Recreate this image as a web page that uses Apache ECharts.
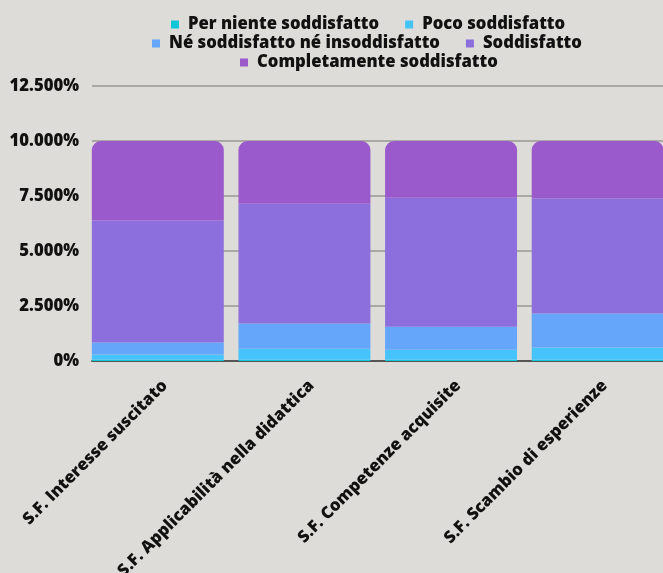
<!DOCTYPE html>
<html>
<head>
<meta charset="utf-8">
<script src="https://cdn.jsdelivr.net/npm/echarts@6/dist/echarts.min.js"></script>
<style>
html,body{margin:0;padding:0;background:#dddcd8;overflow:hidden;width:663px;height:573px;}
#c{width:671px;height:573px;}
</style>
</head>
<body>
<div id="c"></div>
<script>
var categories = ['S.F. Interesse suscitato', 'S.F. Applicabilità nella didattica', 'S.F. Competenze acquisite', 'S.F. Scambio di esperienze'];
var seriesNames = ['Per niente soddisfatto', 'Poco soddisfatto', 'Né soddisfatto né insoddisfatto', 'Soddisfatto', 'Completamente soddisfatto'];
var perNiente = [0.06, 0.06, 0.06, 0.06];
var poco = [0.23, 0.50, 0.45, 0.55];
var neNe = [0.55, 1.14, 1.05, 1.55];
var soddisfatto = [5.55, 5.45, 5.86, 5.23];
var completamente = [3.61, 2.85, 2.58, 2.61];
var yTicks = [0, 2.5, 5, 7.5, 10, 12.5];

var colors = ['#12c6d8', '#47c3fc', '#65a6fa', '#8c6fdd', '#9b5acc'];
var font = 'Open Sans';
var fs = 16.67;
var chart = echarts.init(document.getElementById('c'));
var values = [perNiente, poco, neNe, soddisfatto, completamente];
var series = values.map(function (v, i) {
  return {
    name: seriesNames[i],
    type: 'bar',
    stack: 'tot',
    data: v,
    xAxisIndex: 1, yAxisIndex: 1,
    barCategoryGap: '10%',
    itemStyle: { color: colors[i], borderRadius: i === 4 ? [9, 9, 0, 0] : 0 }
  };
});
function legend(names, left, top) {
  return {
    data: names, left: left, top: top, orient: 'horizontal',
    itemWidth: 8, itemHeight: 8, itemGap: 26, icon: 'rect',
    textStyle: { fontFamily: font, fontWeight: 800, fontSize: fs, color: '#111', padding: [0, 0, 0, 4] }
  };
}
var yMax = yTicks[yTicks.length - 1];
chart.setOption({
  backgroundColor: '#dddcd8',
  animation: false,
  legend: [
    legend([seriesNames[0], seriesNames[1]], 166, 11),
    legend([seriesNames[2], seriesNames[3]], 147, 30),
    legend([seriesNames[4]], 235, 49)
  ],
  grid: [
    { left: 92, top: 86, right: 8, height: 275, containLabel: false, outerBoundsMode: 'none' },
    { left: 84.5, top: 86, right: 0, height: 275, containLabel: false, outerBoundsMode: 'none' }
  ],
  xAxis: [
    {
      gridIndex: 0, type: 'value', min: 0, max: 1,
      axisLine: { show: true, lineStyle: { color: '#555', width: 2 } },
      axisTick: { show: false }, axisLabel: { show: false }, splitLine: { show: false }
    },
    {
      gridIndex: 1, type: 'category', data: categories,
      axisLine: { show: false }, axisTick: { show: false },
      axisLabel: { rotate: 45, interval: 0, margin: 15, verticalAlign: 'top', lineHeight: 20,
        fontFamily: font, fontWeight: 800, fontSize: fs, color: '#111' }
    }
  ],
  yAxis: [
    {
      gridIndex: 0, type: 'value', min: 0, max: yMax, interval: 2.5,
      axisLine: { show: false }, axisTick: { show: false },
      splitLine: { lineStyle: { color: '#a9a9a5', width: 2 } },
      axisLabel: {
        margin: 13, fontFamily: font, fontWeight: 800, fontSize: fs, color: '#111',
        formatter: function (v) { return v === 0 ? '0%' : v.toFixed(3) + '%'; }
      }
    },
    {
      gridIndex: 1, type: 'value', min: 0, max: yMax, interval: 2.5, show: false,
      splitLine: { show: false }
    }
  ],
  series: series
});
</script>
</body>
</html>
